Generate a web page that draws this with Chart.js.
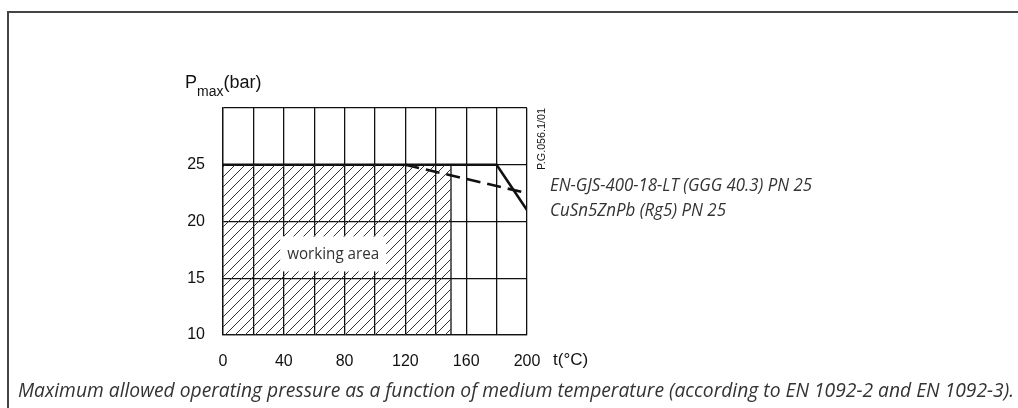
<!DOCTYPE html>
<html>
<head>
<meta charset="utf-8">
<script src="https://cdn.jsdelivr.net/npm/chart.js@4/dist/chart.umd.min.js"></script>
<style>
  html, body { margin: 0; padding: 0; background: #fff; }
  #wrap { width: 1018px; height: 408px; }
</style>
</head>
<body>
<div id="wrap"><canvas id="pressureChart" width="1018" height="408"></canvas></div>
<script>
// data
const xLabelled = [0, 40, 80, 120, 160, 200];
const yLabelled = [10, 15, 20, 25];

const cuTemp = [0, 180, 200];
const cuPress = [25, 25, 21];

const ggTemp = [120, 200];
const ggPress = [25, 22.5];

const areaTemp = [0, 150];
const areaPress = [25, 25];
const areaEdgeTemp = [150, 150];
const areaEdgePress = [25, 10];

const ggLabel = 'EN-GJS-400-18-LT (GGG 40.3) PN 25';
const cuLabel = 'CuSn5ZnPb (Rg5) PN 25';
const areaLabel = 'working area';
const caption = 'Maximum allowed operating pressure as a function of medium temperature (according to EN 1092-2 and EN 1092-3).';
const drawingId = 'P.G.056.1/01';

const tickFont = { family: '"Liberation Sans", Arial, sans-serif', size: 16 };
const italicFont = '"Open Sans", "Noto Sans", sans-serif';

function toPoints(xs, ys) {
    return xs.map((x, i) => ({ x: x, y: ys[i] }));
}

// diagonal hatching for the working area
function makeHatch() {
    const c = document.createElement('canvas');
    c.width = 10;
    c.height = 10;
    const g = c.getContext('2d');
    g.strokeStyle = '#333';
    g.lineWidth = 1;
    g.beginPath();
    g.moveTo(-1, 11); g.lineTo(11, -1);
    g.moveTo(-6, 6); g.lineTo(6, -6);
    g.moveTo(4, 16); g.lineTo(16, 4);
    g.stroke();
    return g.createPattern(c, 'repeat');
}

const extrasPlugin = {
    id: 'extras',
    afterDatasetsDraw(chart) {
        const { ctx, scales } = chart;
        const x = scales.x, y = scales.y;
        // working area label on white box
        const cx = x.getPixelForValue(72.5);
        const cy = y.getPixelForValue(17.1);
        ctx.save();
        ctx.fillStyle = '#fff';
        ctx.fillRect(cx - 53, cy - 18, 106, 35);
        ctx.font = '16px "Open Sans", sans-serif';
        ctx.fillStyle = '#333';
        ctx.textAlign = 'center';
        ctx.textBaseline = 'middle';
        ctx.fillText(areaLabel, cx, cy, 92);
        ctx.restore();
    },
    afterDraw(chart) {
        const { ctx, chartArea, scales } = chart;
        const y = scales.y;
        ctx.save();

        // frame
        ctx.strokeStyle = '#444';
        ctx.lineWidth = 2;
        ctx.beginPath();
        ctx.moveTo(8, 408);
        ctx.lineTo(8, 12);
        ctx.lineTo(1018, 12);
        ctx.stroke();

        // axis titles
        ctx.fillStyle = '#111';
        ctx.textAlign = 'left';
        ctx.textBaseline = 'alphabetic';
        ctx.font = '18px "Liberation Sans", Arial, sans-serif';
        ctx.fillText('P', 185, 88);
        let px = 185 + ctx.measureText('P').width;
        ctx.font = '14px "Liberation Sans", Arial, sans-serif';
        ctx.fillText('max', px, 96);
        px += ctx.measureText('max').width;
        ctx.font = '18px "Liberation Sans", Arial, sans-serif';
        ctx.fillText('(bar)', px, 88);

        ctx.font = '17px ' + tickFont.family;
        ctx.textBaseline = 'middle';
        ctx.fillText('t(°C)', chartArea.right + 26, 360);

        // series labels
        ctx.font = 'italic 18px ' + italicFont;
        ctx.fillStyle = '#333';
        ctx.fillText(ggLabel, chartArea.right + 23, y.getPixelForValue(23.1), 262);
        ctx.fillText(cuLabel, chartArea.right + 23, y.getPixelForValue(20.9), 176);

        // caption
        ctx.font = 'italic 20px ' + italicFont;
        ctx.fillText(caption, 18, 391, 996);

        // drawing number
        ctx.translate(chartArea.right + 15, chartArea.top + 31);
        ctx.rotate(-Math.PI / 2);
        ctx.font = '11px "Liberation Sans", Arial, sans-serif';
        ctx.fillStyle = '#111';
        ctx.textAlign = 'center';
        ctx.fillText(drawingId, 0, 0, 62);
        ctx.restore();
    }
};

const ctx = document.getElementById('pressureChart');

const pressureChart = new Chart(ctx, {
    type: 'scatter',
    data: {
        datasets: [
            {
                label: areaLabel,
                data: toPoints(areaTemp, areaPress),
                showLine: true,
                borderWidth: 0,
                borderColor: 'rgba(0,0,0,0)',
                backgroundColor: makeHatch(),
                fill: { target: { value: 10 } },
                pointRadius: 0
            },
            {
                label: 'edge',
                data: toPoints(areaEdgeTemp, areaEdgePress),
                showLine: true,
                borderWidth: 1.3,
                borderColor: '#111',
                pointRadius: 0
            },
            {
                label: ggLabel,
                data: toPoints(ggTemp, ggPress),
                showLine: true,
                borderWidth: 2.6,
                borderColor: '#111',
                borderDash: [14, 7],
                pointRadius: 0
            },
            {
                label: cuLabel,
                data: toPoints(cuTemp, cuPress),
                showLine: true,
                borderWidth: 2.6,
                borderColor: '#111',
                pointRadius: 0
            }
        ]
    },
    options: {
        responsive: false,
        animation: false,
        layout: {
            padding: { left: 0, right: 491, top: 108, bottom: 0 }
        },
        plugins: {
            legend: { display: false },
            tooltip: { enabled: false }
        },
        scales: {
            x: {
                type: 'linear',
                min: 0,
                max: 200,
                afterFit: function(scale) { scale.height = 73; },
                grid: { color: '#111', lineWidth: 1.3, drawTicks: false },
                border: { color: '#111', width: 1.3 },
                ticks: {
                    stepSize: 20,
                    autoSkip: false,
                    maxRotation: 0,
                    padding: 17,
                    color: '#111',
                    font: tickFont,
                    callback: v => xLabelled.includes(v) ? String(v) : ''
                }
            },
            y: {
                min: 10,
                max: 30,
                afterFit: function(scale) { scale.width = 223; },
                grid: { color: '#111', lineWidth: 1.3, drawTicks: false },
                border: { color: '#111', width: 1.3 },
                ticks: {
                    stepSize: 5,
                    padding: 18,
                    color: '#111',
                    font: tickFont,
                    callback: v => yLabelled.includes(v) ? String(v) : ''
                }
            }
        }
    },
    plugins: [extrasPlugin]
});
</script>
</body>
</html>
